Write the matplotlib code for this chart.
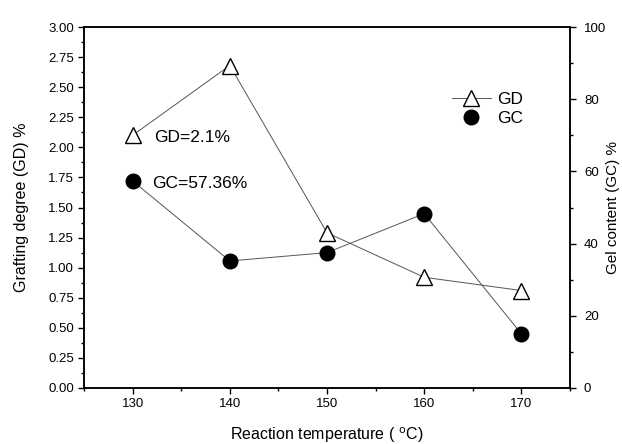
import matplotlib
matplotlib.use('Agg')
import matplotlib.pyplot as plt
from matplotlib.ticker import MultipleLocator
from matplotlib.lines import Line2D

plt.rcParams['font.family'] = ['Liberation Sans', 'DejaVu Sans']

temperature = [130, 140, 150, 160, 170]
grafting_degree = [2.10, 2.68, 1.29, 0.92, 0.81]
gel_content = [57.36, 35.2, 37.5, 48.3, 15.0]

fig = plt.figure(figsize=(6.22, 4.44), dpi=100)
ax = fig.add_axes([84 / 622, 1 - 388 / 444, 486 / 622, 361 / 444])
ax2 = ax.twinx()

ax.plot(temperature, grafting_degree, color='#555555', lw=0.7, marker='^',
        markersize=11, markerfacecolor='white', markeredgecolor='black',
        markeredgewidth=1.0, zorder=3)
ax2.plot(temperature, gel_content, color='#555555', lw=0.7, marker='o',
         markersize=10.5, markerfacecolor='black', markeredgecolor='black',
         zorder=3)

ax.set_xlim(125, 175)
ax.set_ylim(0, 3.0)
ax2.set_ylim(0, 100)
ax.xaxis.set_major_locator(MultipleLocator(10))
ax.xaxis.set_minor_locator(MultipleLocator(5))
ax.yaxis.set_major_locator(MultipleLocator(0.25))
ax.yaxis.set_minor_locator(MultipleLocator(0.125))
ax2.yaxis.set_major_locator(MultipleLocator(20))
ax2.yaxis.set_minor_locator(MultipleLocator(10))
ax.yaxis.set_major_formatter(plt.FormatStrFormatter('%.2f'))

for a in (ax, ax2):
    a.tick_params(which='major', direction='out', length=4, width=1, labelsize=9.5, pad=3)
    a.tick_params(which='minor', direction='out', length=2.5, width=1)
    for s in a.spines.values():
        s.set_linewidth(1.1)
ax2.tick_params(axis='y', which='major', pad=6)

ax.set_xlabel('Reaction temperature ( $^{\\rm o}$C)', fontsize=11.5, labelpad=11)
ax.set_ylabel('Grafting degree (GD) %', fontsize=11.5, labelpad=14)
ax2.set_ylabel('Gel content (GC) %', fontsize=11, labelpad=0)

ax.text(132.2, 2.08, 'GD=2.1%', fontsize=12.5, va='center')
ax.text(132.0, 1.70, 'GC=57.36%', fontsize=12.5, va='center')

handles = [
    Line2D([], [], color='#555555', lw=0.7, marker='^', markersize=11,
           markerfacecolor='white', markeredgecolor='black'),
    Line2D([], [], color='none', marker='o', markersize=10.5,
           markerfacecolor='black', markeredgecolor='black'),
]
ax.legend(handles, ['GD', 'GC'], loc='upper left', bbox_to_anchor=(0.74, 0.845),
          frameon=False, fontsize=12.5, handlelength=2.2, handletextpad=0.4,
          labelspacing=0.25, borderpad=0)

fig.savefig('out.png', dpi=100)
